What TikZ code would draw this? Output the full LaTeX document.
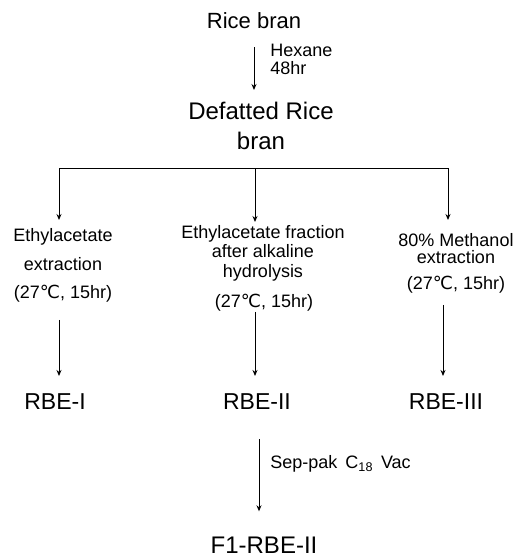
\documentclass[tikz,border=0pt]{standalone}
\usepackage{fontspec}
\setmainfont{Liberation Sans}
\newfontfamily\symfont{DejaVu Sans}
\usepackage{tikz}
\usetikzlibrary{arrows.meta}
\newcommand{\degc}{{\symfont ℃}}

\begin{document}
\begin{tikzpicture}[x=1pt, y=-1pt,
    big/.style={inner sep=0pt, anchor=base, font=\fontsize{23}{26}\selectfont},
    txt/.style={inner sep=0pt, anchor=north, align=center},
    cond/.style={inner sep=0pt, anchor=base, font=\fontsize{18}{20}\selectfont},
    arr/.style={-{Stealth[length=6pt, width=5pt]}, line width=0.9pt}]
    \useasboundingbox (0,0) rectangle (528,557);

    % Starting material
    \node[big, font=\fontsize{22}{24}\selectfont] (rice) at (254,28) {Rice bran};
    \node[txt, font=\fontsize{24}{30}\selectfont] (defat) at (261,102) {Defatted Rice\\bran};
    \draw[arr, shorten <=19pt, shorten >=12pt] (rice.south) -- (rice.south |- defat.north)
        node[midway, anchor=west, inner sep=0pt, xshift=16pt, yshift=6pt, align=left,
             font=\fontsize{18}{18}\selectfont] (hex) {Hexane\\48hr};

    % Branches
    \coordinate (jL) at (59,168);
    \coordinate (jM) at (255,168);
    \coordinate (jR) at (448,168);
    \draw[line width=0.9pt] (jL) -- (jR);

    \node[txt, font=\fontsize{18}{29}\selectfont] (ea) at (63,228) {Ethylacetate\\extraction};
    \node[txt, font=\fontsize{18}{19.5}\selectfont] (eaf) at (263,225) {Ethylacetate fraction\\after alkaline\\hydrolysis};
    \node[txt, font=\fontsize{18}{17}\selectfont] (meth) at (456,233) {80\% Methanol\\extraction};

    \node[cond] (cL) at (63,298) {(27\degc, 15hr)};
    \node[cond] (cM) at (264,307) {(27\degc, 15hr)};
    \node[cond] (cR) at (456,289) {(27\degc, 15hr)};

    \draw[arr, shorten >=8pt] (jL) -- (jL |- ea.north);
    \draw[arr, shorten >=3pt] (jM) -- (jM |- eaf.north);
    \draw[arr, shorten >=13pt] (jR) -- (jR |- meth.north);

    % Fractions
    \node[big] (rbe1) at (55,409) {RBE-I};
    \node[big] (rbe2) at (257,409) {RBE-II};
    \node[big] (rbe3) at (446,409) {RBE-III};

    \draw[arr, shorten <=18pt, shorten >=17pt] (cL.south -| jL) -- (rbe1.north -| jL);
    \draw[arr, shorten <=1pt, shorten >=17pt] (cM.south -| jM) -- (rbe2.north -| jM);
    \draw[arr, shorten <=12pt, shorten >=17pt] ([xshift=-5pt]cR.south -| jR) -- ([xshift=-5pt]rbe3.north -| jR);

    % Purification
    \node[big, font=\fontsize{24}{26}\selectfont] (f1) at (264,553) {F1-RBE-II};
    \draw[arr, shorten <=30pt, shorten >=25pt] ([xshift=2pt]rbe2.south) -- ([xshift=2pt]rbe2.south |- f1.north)
        node[midway, anchor=west, inner sep=0pt, xshift=11pt, yshift=9pt,
             font=\fontsize{18}{18}\selectfont] (sep) {Sep-pak\ \,C\textsubscript{18}\ \,Vac};
\end{tikzpicture}
\end{document}
